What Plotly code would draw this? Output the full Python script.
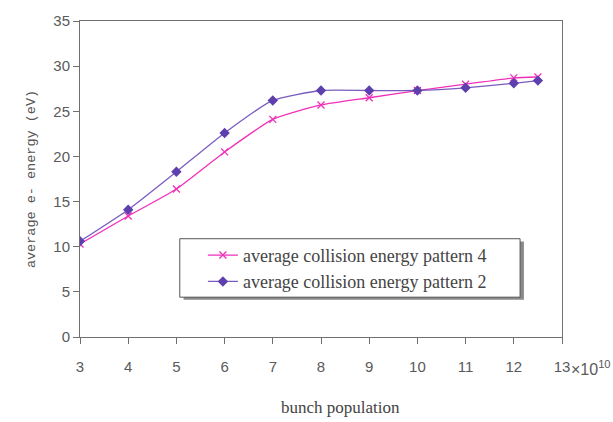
import plotly.graph_objects as go

# bunch population (units of 1e10) and average electron energy (eV)
bunch = [3, 4, 5, 6, 7, 8, 9, 10, 11, 12, 12.5]
pattern4 = [10.3, 13.4, 16.4, 20.5, 24.1, 25.7, 26.5, 27.3, 28.0, 28.7, 28.8]
pattern2 = [10.6, 14.1, 18.3, 22.6, 26.2, 27.3, 27.3, 27.3, 27.6, 28.1, 28.4]

x_ticks = [3, 4, 5, 6, 7, 8, 9, 10, 11, 12, 13]
x_ticktext = ["3", "4", "5", "6", "7", "8", "9", "10", "11", "12", "13"]
y_ticks = [0, 5, 10, 15, 20, 25, 30, 35]

name4 = "average collision energy pattern 4"
name2 = "average collision energy pattern 2"

fig = go.Figure()
fig.add_trace(go.Scatter(
    x=bunch, y=pattern4, name=name4, mode="lines+markers",
    line=dict(color="#F030B8", width=1.3, shape="spline", smoothing=0.5),
    marker=dict(symbol="x-thin-open", size=7, line=dict(color="#F030B8", width=1.3)),
))
fig.add_trace(go.Scatter(
    x=bunch, y=pattern2, name=name2, mode="lines+markers",
    line=dict(color="#7A5CC0", width=1.3, shape="spline", smoothing=0.5),
    marker=dict(symbol="diamond", size=8, color="#5E3FAE"),
))

tick_font = dict(family="Liberation Sans", size=15, color="#5a5a5a")
axis_common = dict(
    showline=True, linecolor="#707070", linewidth=1, mirror=True,
    ticks="outside", ticklen=6, tickcolor="#707070", showgrid=False, zeroline=False,
    tickfont=tick_font,
)

fig.update_xaxes(range=[3, 13], tickvals=x_ticks, ticktext=x_ticktext,
                 ticklabelstandoff=10, **axis_common)
fig.update_yaxes(
    range=[0, 35], tickvals=y_ticks,
    title=dict(text="average e- energy (eV)", font=dict(family="Liberation Mono", size=13.5, color="#555555"), standoff=14),
    **axis_common,
)

# legend frame with drop shadow
fig.add_shape(type="rect", xref="paper", yref="paper", x0=0.215, x1=0.921, y0=0.118, y1=0.302,
              fillcolor="#8a8a8a", line=dict(width=0), layer="below")
fig.add_shape(type="rect", xref="paper", yref="paper", x0=0.207, x1=0.913, y0=0.126, y1=0.311,
              fillcolor="white", line=dict(color="#555555", width=1), layer="below")

# exponent beside the last x tick label
fig.add_annotation(xref="x", yref="paper", x=13, y=0, xshift=7, yshift=-31,
                   text="×10<sup>10</sup>", showarrow=False, xanchor="left", yanchor="middle",
                   font=dict(family="Liberation Sans", size=16, color="#5a5a5a"))

# x axis title
fig.add_annotation(xref="paper", yref="paper", x=0.54, y=0, yshift=-70,
                   text="bunch population", showarrow=False, xanchor="center", yanchor="middle",
                   font=dict(family="Liberation Serif", size=17, color="#444444"))

fig.update_layout(
    width=613, height=422,
    margin=dict(l=80, r=51, t=12, b=85),
    paper_bgcolor="white", plot_bgcolor="white",
    legend=dict(x=0.255, y=0.317, xanchor="left", yanchor="top", bgcolor="rgba(0,0,0,0)",
                borderwidth=0, font=dict(family="Liberation Serif", size=18, color="#444444"),
                tracegroupgap=0),
    showlegend=True,
)

fig.write_html("out.html")
